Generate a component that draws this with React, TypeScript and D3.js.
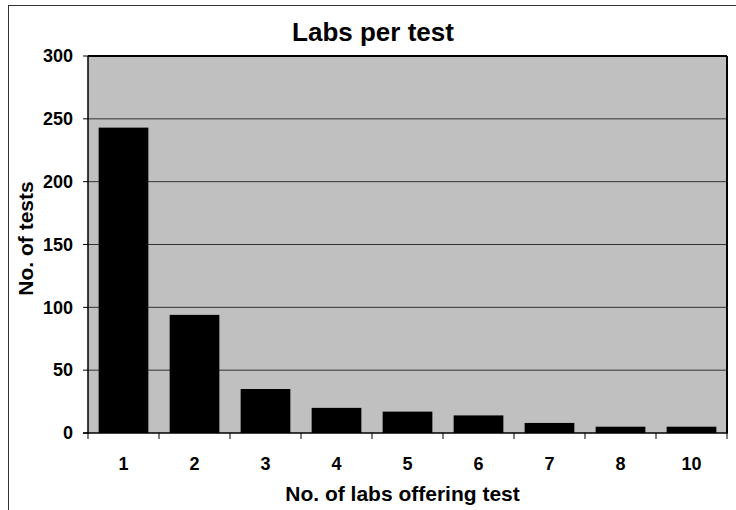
import React from "react";
import * as d3 from "d3";

const categories = ["1", "2", "3", "4", "5", "6", "7", "8", "10"];
const values = [243, 94, 35, 20, 17, 14, 8, 5, 5];
const yTicks = [0, 50, 100, 150, 200, 250, 300];
const title = "Labs per test";
const xTitle = "No. of labs offering test";
const yTitle = "No. of tests";

const W = 736;
const H = 510;
const plot = { left: 88, top: 56, right: 727, bottom: 433 };
const font = "'Liberation Sans', Arial, sans-serif";

export default function App() {
  const x = d3.scaleBand<string>().domain(categories).range([plot.left, plot.right]).padding(0);
  const y = d3.scaleLinear().domain([0, 300]).range([plot.bottom, plot.top]);
  const bw = x.bandwidth() * 0.7;
  const boundaries = categories.map((c) => x(c) as number).concat([plot.right]);

  return (
    <svg
      width={W}
      height={H}
      style={{ position: "absolute", left: 0, top: 0, background: "#fff" }}
      fontFamily={font}
    >
      <rect x={8.5} y={5.5} width={740} height={520} fill="#fff" stroke="#333" strokeWidth={1} />
      <rect
        x={plot.left}
        y={plot.top}
        width={plot.right - plot.left}
        height={plot.bottom - plot.top}
        fill="#c0c0c0"
      />
      {yTicks
        .filter((t) => t > 0 && t < 300)
        .map((t) => (
          <line key={"g" + t} x1={plot.left} x2={plot.right} y1={y(t)} y2={y(t)} stroke="#333" strokeWidth={1} />
        ))}
      {values.map((v, i) => {
        const c = categories[i];
        const cx = (x(c) as number) + x.bandwidth() / 2;
        return <rect key={c} x={cx - bw / 2} y={y(v)} width={bw} height={plot.bottom - y(v)} fill="#000" />;
      })}
      {/* plot border */}
      <line x1={plot.left} x2={plot.right} y1={plot.top} y2={plot.top} stroke="#000" strokeWidth={2} />
      <line x1={plot.right} x2={plot.right} y1={plot.top} y2={plot.bottom} stroke="#000" strokeWidth={2} />
      <line x1={plot.left} x2={plot.left} y1={plot.top} y2={plot.bottom + 1} stroke="#000" strokeWidth={1.5} />
      <line x1={plot.left - 5} x2={plot.right + 1} y1={plot.bottom} y2={plot.bottom} stroke="#000" strokeWidth={1.5} />
      {yTicks.map((t) => (
        <g key={"y" + t}>
          <line x1={plot.left - 5} x2={plot.left} y1={y(t)} y2={y(t)} stroke="#000" strokeWidth={1} />
          <text x={73} y={y(t)} dy="0.35em" textAnchor="end" fontSize={18} fontWeight="bold" fill="#000">
            {t}
          </text>
        </g>
      ))}
      {boundaries.map((b, i) => (
        <line key={"xt" + i} x1={b} x2={b} y1={plot.bottom} y2={plot.bottom + 6} stroke="#000" strokeWidth={1} />
      ))}
      {categories.map((c) => (
        <text
          key={"xl" + c}
          x={(x(c) as number) + x.bandwidth() / 2}
          y={470}
          textAnchor="middle"
          fontSize={18}
          fontWeight="bold"
          fill="#000"
        >
          {c}
        </text>
      ))}
      <text x={373} y={41} textAnchor="middle" fontSize={26} fontWeight="bold" fill="#000">
        {title}
      </text>
      <text x={(plot.left + plot.right) / 2 - 5} y={501} textAnchor="middle" fontSize={21} fontWeight="bold" fill="#000">
        {xTitle}
      </text>
      <text
        transform={`translate(33, ${(plot.top + plot.bottom) / 2 - 6}) rotate(-90)`}
        textAnchor="middle"
        fontSize={21}
        fontWeight="bold"
        fill="#000"
      >
        {yTitle}
      </text>
    </svg>
  );
}
